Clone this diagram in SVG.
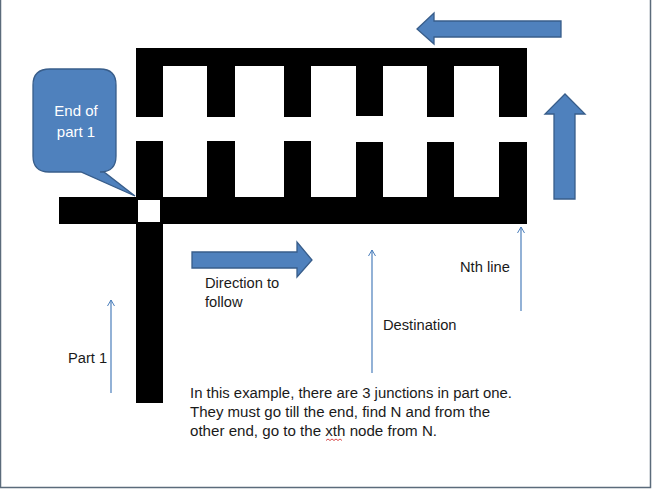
<svg xmlns="http://www.w3.org/2000/svg" width="652" height="489" viewBox="0 0 652 489">
<style>
.maze{fill:#000}
.blk{fill:#4f81bd;stroke:#385d8a;stroke-width:1.3}
.thin{stroke:#4a7ebb;stroke-width:1.2;fill:none}
.t{font-family:"Liberation Sans",Arial,sans-serif;font-size:14.7px;fill:#1a1a1a}
.w{font-family:"Liberation Sans",Arial,sans-serif;font-size:15px;fill:#fff;text-anchor:middle}
</style>
<defs>
<marker id="open" markerWidth="8" markerHeight="8" refX="7" refY="4" orient="auto" markerUnits="userSpaceOnUse" viewBox="0 0 8 8">
<path d="M1,0.5 L7,4 L1,7.5" fill="none" stroke="#4a7ebb" stroke-width="1"/>
</marker>
</defs>
<rect x="0" y="0" width="652" height="489" fill="#fff"/>
<path d="M0.5,0 V487.5 H650.5 V0" fill="none" stroke="#5b6b7b" stroke-width="1.5"/>
<g id="maze">
<rect class="maze" x="136" y="48" width="391" height="18"/>
<rect class="maze" x="136" y="66" width="27" height="51"/>
<rect class="maze" x="207" y="66" width="28" height="51"/>
<rect class="maze" x="284" y="66" width="27" height="51"/>
<rect class="maze" x="356" y="66" width="27" height="50"/>
<rect class="maze" x="427" y="66" width="27" height="51"/>
<rect class="maze" x="499" y="66" width="28" height="51"/>
<rect class="maze" x="136" y="141" width="27" height="262"/>
<rect class="maze" x="207" y="141" width="28" height="57"/>
<rect class="maze" x="284" y="141" width="27" height="57"/>
<rect class="maze" x="356" y="142" width="27" height="56"/>
<rect class="maze" x="427" y="142" width="27" height="56"/>
<rect class="maze" x="499" y="142" width="28" height="56"/>
<rect class="maze" x="59" y="197" width="468" height="27"/>
<rect x="138" y="200" width="22" height="22" fill="#fff"/>
</g>
<g id="callout">
<path class="blk" d="M50,69 H100 Q116,69 116,85 V156 Q116,172 100,172 H104 L135,196 L81,172 H49 Q33,172 33,156 V85 Q33,69 50,69 Z"/>
<text class="w" x="76" y="116">End of</text>
<text class="w" x="76" y="137">part 1</text>
</g>
<g id="arrow-left">
<path class="blk" d="M561,21 H434 V13 L417,29 L434,44 V37 H561 Z"/>
</g>
<g id="arrow-up">
<path class="blk" d="M554,199 V114 H545 L565,94 L585,114 H575 V199 Z"/>
</g>
<g id="arrow-right">
<path class="blk" d="M192,252 H297 V242 L312,260 L297,277 V268 H192 Z"/>
</g>
<g id="connectors">
<line class="thin" x1="111" y1="393" x2="111" y2="300" marker-end="url(#open)"/>
<line class="thin" x1="372" y1="373" x2="372" y2="250" marker-end="url(#open)"/>
<line class="thin" x1="521" y1="311" x2="521" y2="227" marker-end="url(#open)"/>
</g>
<g id="labels">
<text class="t" x="205" y="288">Direction to</text>
<text class="t" x="205" y="307">follow</text>
<text class="t" x="460" y="272">Nth line</text>
<text class="t" x="383" y="330">Destination</text>
<text class="t" x="68" y="363">Part 1</text>
<text class="t" x="190" y="398" textLength="322" lengthAdjust="spacingAndGlyphs">In this example, there are 3 junctions in part one.</text>
<text class="t" x="190" y="417" textLength="300" lengthAdjust="spacingAndGlyphs">They must go till the end, find N and from the</text>
<text class="t" x="190" y="436" textLength="247" lengthAdjust="spacingAndGlyphs">other end, go to the xth node from N.</text>
<path d="M326,440.5 l2,-1.5 l2,1.5 l2,-1.5 l2,1.5 l2,-1.5 l2,1.5 l2,-1.5 l2,1.5" fill="none" stroke="#d02020" stroke-width="0.8"/>
</g>
</svg>
